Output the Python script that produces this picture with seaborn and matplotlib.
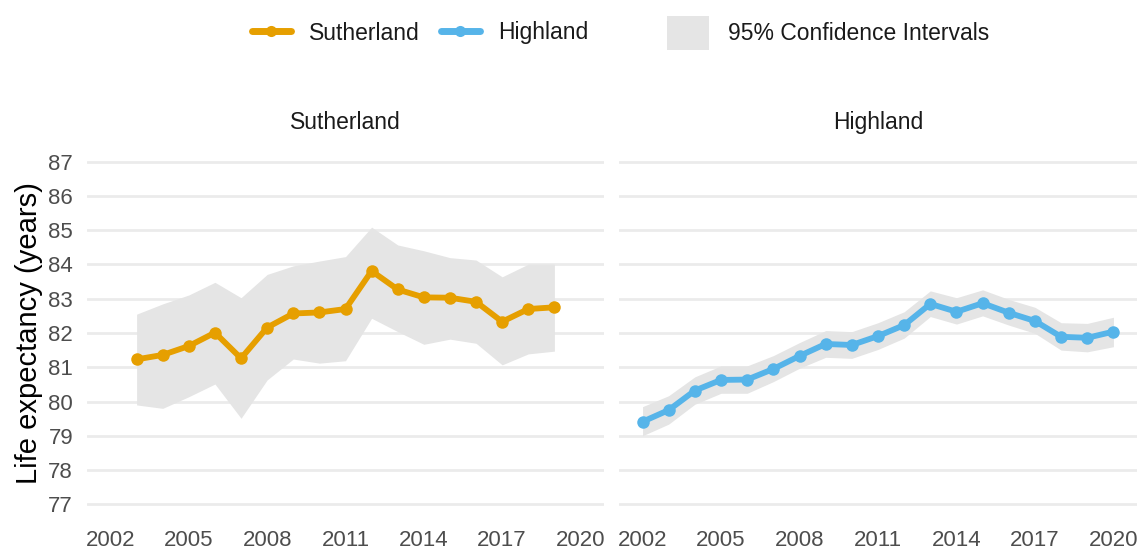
import pandas as pd
import numpy as np
import matplotlib
matplotlib.use('Agg')
import matplotlib.pyplot as plt
from matplotlib.lines import Line2D
from matplotlib.patches import Patch
import seaborn as sns

# life expectancy data
suth_years = list(range(2003, 2020))
suth_le = [81.23, 81.36, 81.62, 82.01, 81.26, 82.16, 82.57, 82.60, 82.70,
           83.81, 83.27, 83.04, 83.03, 82.91, 82.33, 82.70, 82.75]
suth_upper = [82.55, 82.85, 83.11, 83.48, 83.03, 83.71, 83.96, 84.10, 84.23,
              85.09, 84.57, 84.40, 84.20, 84.13, 83.64, 84.01, 84.01]
suth_lower = [79.90, 79.80, 80.14, 80.51, 79.51, 80.63, 81.24, 81.12, 81.19,
              82.43, 82.04, 81.67, 81.82, 81.70, 81.07, 81.39, 81.47]

high_years = list(range(2002, 2021))
high_le = [79.41, 79.75, 80.32, 80.63, 80.64, 80.95, 81.33, 81.68, 81.65,
           81.91, 82.23, 82.85, 82.62, 82.87, 82.59, 82.35, 81.89, 81.86, 82.04]
high_upper = [79.85, 80.17, 80.72, 81.04, 81.04, 81.34, 81.72, 82.07, 82.04,
              82.30, 82.62, 83.23, 83.03, 83.26, 82.98, 82.75, 82.30, 82.28, 82.46]
high_lower = [79.00, 79.34, 79.92, 80.24, 80.24, 80.58, 80.97, 81.29, 81.26,
              81.52, 81.85, 82.48, 82.26, 82.50, 82.23, 81.99, 81.50, 81.45, 81.60]

areas = ['Sutherland', 'Highland']
colours = {'Sutherland': '#E69F00', 'Highland': '#56B4E9'}
x_ticks = [2002, 2005, 2008, 2011, 2014, 2017, 2020]
y_ticks = list(range(77, 88))

df = pd.concat([
    pd.DataFrame({'area': 'Sutherland', 'year': suth_years, 'le': suth_le,
                  'lci': suth_lower, 'uci': suth_upper}),
    pd.DataFrame({'area': 'Highland', 'year': high_years, 'le': high_le,
                  'lci': high_lower, 'uci': high_upper}),
])

sns.set_theme(style='white')
plt.rcParams['font.family'] = ['Liberation Sans', 'DejaVu Sans']

fig = plt.figure(figsize=(11.41, 5.54), dpi=100)
ax1 = fig.add_axes([87 / 1141, 32.6 / 554, 517 / 1141, 376.8 / 554])
ax2 = fig.add_axes([619 / 1141, 32.6 / 554, 518 / 1141, 376.8 / 554], sharey=ax1)

for ax, area in zip([ax1, ax2], areas):
    d = df[df['area'] == area]
    ax.fill_between(d['year'], d['lci'], d['uci'], color='#E5E5E5', lw=0, zorder=1)
    sns.lineplot(data=d, x='year', y='le', ax=ax, color=colours[area],
                 linewidth=4.2, marker='o', markersize=9, markeredgewidth=0,
                 zorder=3, legend=False)
    ax.set_xlim(2001.1, 2020.9)
    ax.set_ylim(76.5, 87.5)
    ax.set_xticks(x_ticks)
    ax.set_yticks(y_ticks)
    ax.grid(axis='y', color='#EBEBEB', linewidth=2.0, zorder=0)
    ax.grid(axis='x', visible=False)
    ax.set_axisbelow(True)
    for s in ax.spines.values():
        s.set_visible(False)
    ax.tick_params(axis='both', length=0, labelsize=16, labelcolor='#4D4D4D')
    ax.tick_params(axis='x', pad=6.5)
    ax.tick_params(axis='y', pad=10)
    ax.set_xlabel('')
    ax.set_title(area, fontsize=16.5, color='#1A1A1A', pad=11)

ax1.set_ylabel('Life expectancy (years)', fontsize=21, color='black', labelpad=4)
ax2.set_ylabel('')
ax2.tick_params(axis='y', labelleft=False)

# legends at the top
line_handles = [Line2D([0], [0], color=colours[a], lw=5, marker='o', markersize=8,
                       markeredgewidth=0) for a in areas]
leg1 = fig.legend(line_handles, areas, loc='center', bbox_to_anchor=(420 / 1141, 1 - 33 / 554),
                  ncol=2, frameon=False, fontsize=16.5, handlelength=1.7,
                  handletextpad=0.8, columnspacing=0.9)
for t in leg1.get_texts():
    t.set_color('#1A1A1A')
leg2 = fig.legend([Patch(facecolor='#E5E5E5', edgecolor='none')], ['95% Confidence Intervals'],
                  loc='center', bbox_to_anchor=(828 / 1141, 1 - 33 / 554),
                  frameon=False, fontsize=16.5, handlelength=1.85, handleheight=1.85,
                  handletextpad=0.8)
for t in leg2.get_texts():
    t.set_color('#1A1A1A')

fig.savefig('out.png', dpi=100)
